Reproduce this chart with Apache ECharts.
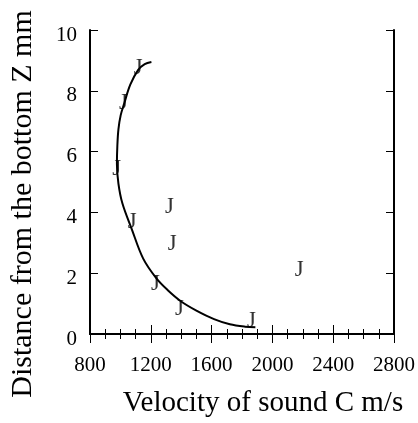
<!DOCTYPE html>
<html>
<head>
<meta charset="utf-8">
<script src="https://cdn.jsdelivr.net/npm/echarts@6/dist/echarts.min.js"></script>
<style>html,body{margin:0;padding:0;background:#fff}#c{width:418px;height:423px}</style>
</head>
<body>
<div id="c"></div>
<script>
// measured points (velocity C m/s, distance Z mm)
var pointC = [1117, 1020, 976, 1323, 1078, 1341, 1230, 1388, 1862, 2177];
var pointZ = [8.75, 7.60, 5.42, 4.17, 3.68, 2.97, 1.64, 0.83, 0.42, 2.10];
// fitted curve
var curveC = [1888, 1820, 1720, 1616, 1500, 1400, 1310, 1237, 1150, 1074, 1013, 987, 977, 980, 987, 1002, 1026, 1065, 1117, 1160, 1204];
var curveZ = [0.22, 0.24, 0.32, 0.49, 0.77, 1.07, 1.45, 1.83, 2.48, 3.46, 4.30, 4.95, 5.60, 6.20, 6.73, 7.20, 7.60, 8.20, 8.69, 8.88, 8.95];
var xTicks = [800, 1200, 1600, 2000, 2400, 2800];
var yTicks = [0, 2, 4, 6, 8, 10];

var FONT = 'Liberation Serif';
var chart = echarts.init(document.getElementById('c'), null, {renderer: 'canvas'});
var pts = pointC.map(function (c, i) { return [c, pointZ[i]]; });
var crv = curveC.map(function (c, i) { return [c, curveZ[i]]; });

var axisLine = {show: true, lineStyle: {color: '#000', width: 2}};
function plain(v) { return String(v); }
function xAx(pos, labels) {
  return {
    type: 'value', position: pos, min: xTicks[0], max: xTicks[xTicks.length - 1], interval: 400,
    axisLine: axisLine,
    axisTick: {show: true, inside: true, length: 9, lineStyle: {color: '#000', width: 1}},
    minorTick: {show: true, splitNumber: 4, length: 5, lineStyle: {color: '#000', width: 1}},
    splitLine: {show: false}, minorSplitLine: {show: false},
    axisLabel: {show: labels, margin: 21, color: '#000', fontFamily: FONT, fontSize: 21, formatter: plain},
    name: labels ? 'Velocity of sound C m/s' : '', nameLocation: 'middle', nameGap: 55,
    nameTextStyle: {color: '#000', fontFamily: FONT, fontSize: 29, padding: [0, 0, 0, 42]}
  };
}
function yAx(pos, labels) {
  return {
    type: 'value', position: pos, min: yTicks[0], max: yTicks[yTicks.length - 1], interval: 2,
    axisLine: axisLine,
    axisTick: {show: true, inside: true, length: 8, lineStyle: {color: '#000', width: 1}},
    splitLine: {show: false},
    axisLabel: {show: labels, margin: 13, color: '#000', fontFamily: FONT, fontSize: 21,
      verticalAlign: 'top', lineHeight: 10, formatter: plain},
    name: labels ? 'Distance from the bottom Z mm' : '', nameLocation: 'middle', nameGap: 52,
    nameTextStyle: {color: '#000', fontFamily: FONT, fontSize: 30, padding: [0, 44, 0, 0]}
  };
}
chart.setOption({
  animation: false,
  backgroundColor: '#fff',
  grid: {left: 88, right: 23, top: 30, bottom: 87, containLabel: false},
  xAxis: [xAx('bottom', true), xAx('top', false)],
  yAxis: [yAx('left', true), yAx('right', false)],
  series: [
    {
      type: 'scatter', data: pts, symbolSize: 1, itemStyle: {color: 'rgba(0,0,0,0)'}, z: 2,
      label: {show: true, position: 'inside', formatter: 'J', color: '#000', fontFamily: FONT, fontSize: 23}
    },
    {
      type: 'line', data: crv, smooth: 0.35, showSymbol: false, symbol: 'none', z: 3,
      lineStyle: {color: '#000', width: 2}
    }
  ]
});
</script>
</body>
</html>
